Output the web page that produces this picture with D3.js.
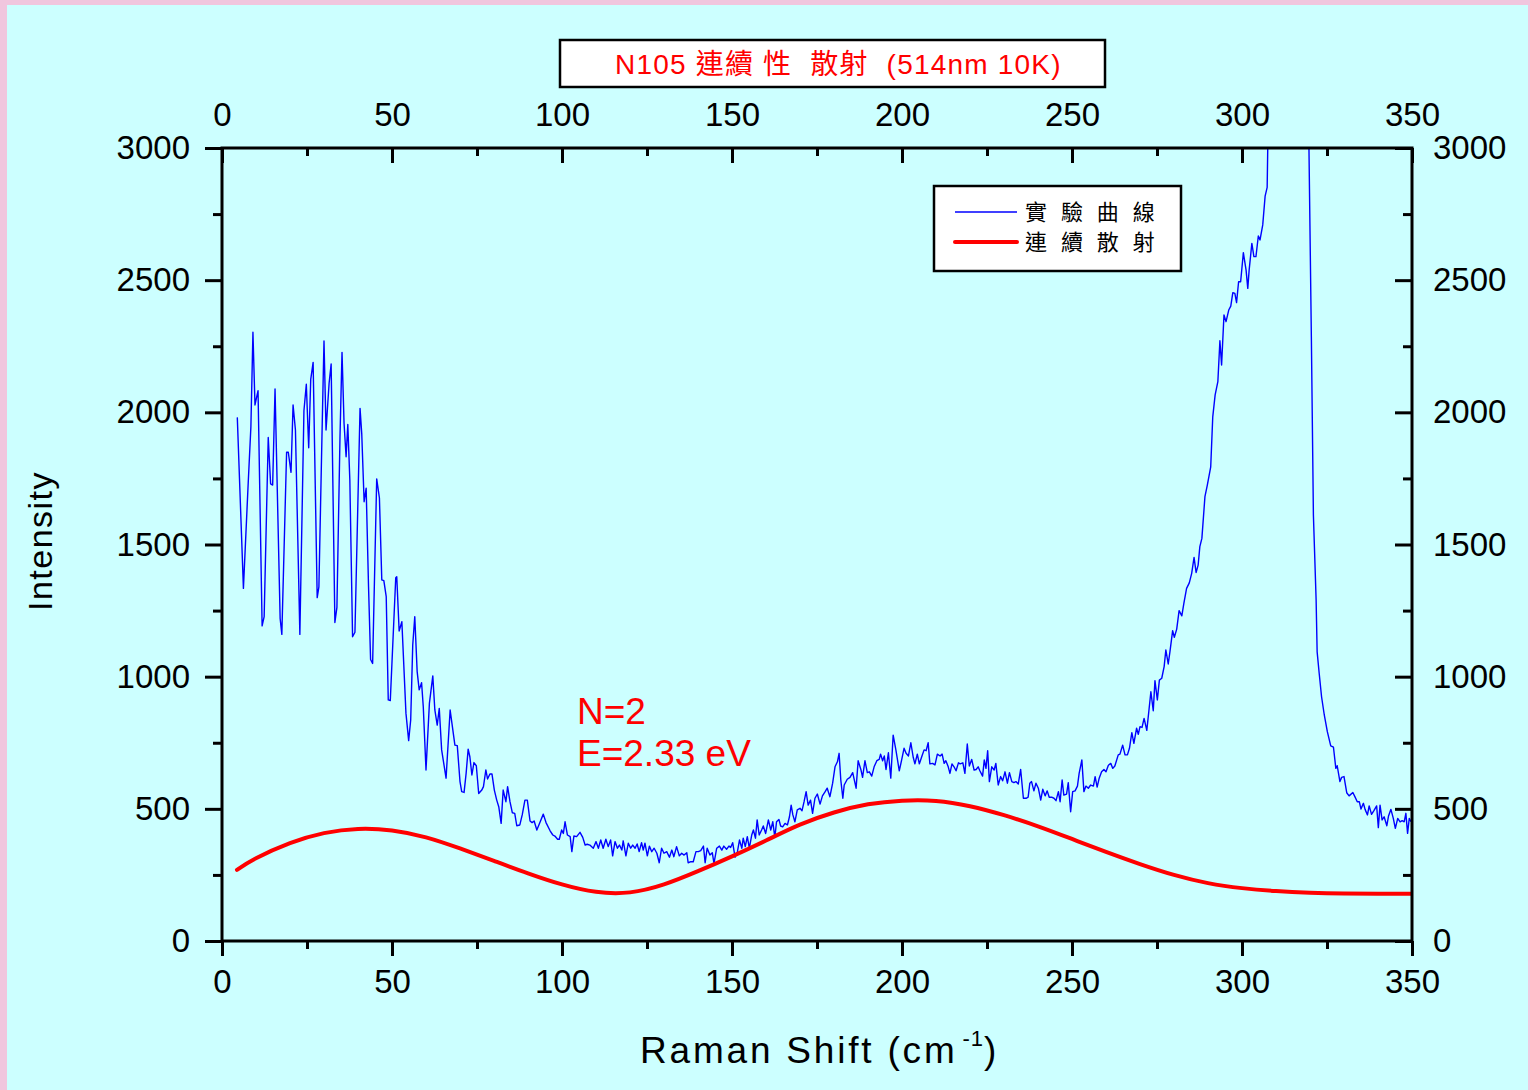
<!DOCTYPE html>
<html><head><meta charset="utf-8">
<script src="https://cdn.jsdelivr.net/npm/d3@7"></script>
<style>
body{margin:0;background:#f0c6de;}
svg{display:block;}
text{font-family:"Liberation Sans",Arial,"Noto Sans CJK TC",sans-serif;}
.cjk{font-family:"Liberation Sans","Noto Sans CJK TC",sans-serif;}
</style>
</head><body><svg id="c" width="1530" height="1090"></svg>
<script>
// ---------- data ----------
const expX = [4.5,6.3,7.7,8.5,9.1,9.7,10.6,11.8,12.4,13.6,14.3,14.9,15.6,17.1,17.6,19.0,19.5,20.3,20.9,21.6,22.9,24.1,24.8,25.5,26.1,26.8,28.0,28.5,29.5,30.0,30.6,31.5,32.1,33.2,33.8,34.7,35.3,35.9,36.5,37.0,37.6,38.4,39.1,40.6,41.1,41.8,42.4,43.1,43.7,44.3,45.5,46.3,47.0,47.6,48.3,48.9,49.5,51.1,51.4,52.1,52.9,54.1,54.9,55.5,56.1,56.7,57.4,58.0,58.7,59.2,60.0,61.0,62.0,62.6,63.3,63.9,64.6,65.9,67.1,67.9,68.5,69.2,70.0,70.5,71.2,71.8,72.4,72.9,73.5,74.1,74.8,75.5,76.4,76.9,77.6,78.1,78.8,79.4,80.1,80.8,81.4,82.1,82.7,83.5,84.0,84.7,85.4,86.1,86.7,87.6,88.3,89.1,89.8,90.6,91.2,91.8,92.6,93.5,94.5,95.3,96.5,97.3,97.9,98.7,99.2,99.9,100.4,100.9,101.6,102.4,102.9,103.5,104.3,105.3,106.1,106.8,107.4,108.2,109.2,110.0,110.7,111.4,112.1,112.9,113.6,114.3,114.9,115.6,116.3,116.9,117.6,118.0,118.8,119.5,120.2,120.8,121.5,122.1,122.7,123.4,123.9,124.4,125.1,125.7,126.4,127.1,127.9,128.6,129.3,130.0,130.8,131.6,132.3,132.9,133.7,134.5,135.2,135.9,136.7,137.1,137.9,138.6,139.4,140.1,140.8,141.6,142.1,142.7,143.5,144.2,144.7,145.5,146.3,147.0,147.6,148.4,149.1,149.6,150.2,150.9,151.6,152.2,152.9,153.3,153.9,154.5,155.1,155.8,156.3,156.9,157.4,158.0,158.7,159.2,159.9,160.7,161.4,162.0,162.6,163.1,163.8,164.3,164.9,165.6,166.3,166.9,167.4,167.9,168.5,169.2,170.0,170.6,171.2,171.8,172.4,173.1,173.7,174.4,175.1,175.9,176.6,177.4,178.0,178.8,179.6,180.3,181.0,181.5,182.0,182.6,183.0,183.9,184.7,185.5,186.5,187.1,187.9,188.4,189.1,189.8,190.4,191.1,191.8,192.6,193.3,193.7,194.3,194.8,195.3,196.0,196.7,197.4,198.2,199.2,199.9,200.6,201.2,201.9,202.6,203.3,203.8,204.5,205.1,205.8,206.5,207.1,207.7,208.2,209.0,209.7,210.4,211.2,211.8,212.4,212.9,213.6,214.1,214.7,215.3,215.9,216.6,217.1,217.9,218.5,219.2,219.8,220.5,221.2,221.8,222.4,222.9,223.7,224.2,224.7,225.2,225.7,226.4,227.1,227.6,228.3,229.0,229.6,230.3,231.0,231.6,232.3,232.9,233.5,234.2,234.9,235.7,236.5,237.1,237.6,238.1,238.8,239.4,240.1,240.8,241.4,242.1,242.7,243.3,244.0,244.7,245.3,246.0,246.5,247.1,247.6,248.4,248.9,249.6,250.2,250.9,251.6,252.1,252.9,253.5,254.1,254.8,255.5,256.3,256.8,257.4,258.0,258.7,259.4,260.0,260.7,261.4,262.0,262.6,263.6,264.1,264.9,265.6,266.3,266.9,267.6,268.2,269.0,269.5,270.0,270.6,271.2,272.0,272.6,273.2,273.9,274.4,275.1,275.7,276.4,277.1,277.6,278.3,278.8,279.6,280.1,280.8,281.5,282.3,282.9,283.7,284.5,285.2,285.9,286.5,287.1,287.6,288.2,289.1,289.8,290.8,291.4,292.1,292.9,293.5,294.0,294.7,295.3,296.1,296.7,297.3,297.9,298.4,299.0,299.6,300.4,301.2,301.7,302.1,302.9,303.5,304.1,304.8,305.3,306.1,306.8,307.4,308.1,308.8,309.5,310.2,310.9,311.6,312.3,313.0,313.7,314.4,315.1,315.8,316.5,317.2,317.9,319.0,319.7,320.4,321.0,321.8,322.1,322.7,323.4,324.2,325.1,326.1,326.9,327.6,328.0,328.8,329.3,330.0,330.8,331.5,332.6,333.2,333.9,334.5,335.0,335.7,336.2,336.9,337.4,338.1,338.8,339.6,340.1,340.6,341.2,341.8,342.6,343.1,343.8,344.5,345.1,345.8,346.5,347.1,347.7,348.2,348.7,349.2,349.7];
const expY = [1981,1334,1731,1946,2303,2028,2082,1192,1227,1905,1729,1725,2088,1220,1160,1849,1849,1773,2028,1933,1160,2006,2106,1866,2125,2189,1299,1340,1971,2270,1933,2110,2183,1205,1262,1905,2227,1958,1832,1954,1744,1151,1168,2015,1920,1662,1713,1340,1065,1050,1748,1676,1366,1363,1303,912,910,1374,1378,1173,1208,862,758,836,1120,1227,1019,950,977,886,647,899,1003,874,817,880,723,616,874,798,741,739,603,565,562,634,726,697,628,675,663,558,571,584,647,613,632,632,571,533,508,445,571,527,584,527,485,483,436,439,477,533,533,454,448,454,420,448,480,448,417,401,397,385,385,420,407,451,401,395,338,397,395,411,392,363,366,363,351,376,351,382,351,385,357,382,322,376,351,363,344,379,322,370,351,363,351,367,338,372,344,370,322,359,338,351,332,296,351,332,338,317,344,319,357,322,332,325,334,296,300,300,338,338,342,359,296,351,325,334,294,351,359,344,359,347,359,354,372,317,338,382,351,389,357,395,351,401,420,389,458,401,420,435,407,458,420,451,392,451,460,435,432,445,439,470,514,477,451,496,502,493,527,565,514,533,483,540,556,518,549,565,578,546,597,659,678,710,609,540,590,612,619,637,578,682,649,619,682,637,640,624,659,682,687,707,682,700,649,712,616,779,723,644,685,729,710,700,750,695,670,707,670,697,723,720,750,670,672,666,707,700,707,672,682,659,634,670,659,644,674,670,674,634,745,662,687,647,649,659,644,624,685,653,720,603,659,647,672,590,622,606,640,597,637,603,599,603,594,649,540,540,544,597,603,568,597,578,533,574,549,568,544,544,540,531,565,527,609,552,556,599,489,565,568,586,634,685,565,586,578,590,586,622,582,616,640,649,640,665,672,653,662,704,707,741,704,704,729,788,748,805,782,811,808,842,797,869,943,871,985,912,987,994,1038,1101,1048,1094,1174,1149,1180,1250,1230,1277,1334,1355,1391,1451,1394,1422,1492,1523,1681,1725,1794,1983,2066,2116,2271,2179,2368,2343,2387,2402,2453,2450,2415,2494,2494,2604,2538,2469,2538,2639,2589,2589,2667,2652,2709,2818,2851,3450,4300,5400,6800,8200,9500,10400,10800,10500,9700,8500,7200,6100,5100,4300,3764,2992,2285,1612,1290,1094,1013,924,855,792,738,733,653,663,603,619,622,561,549,562,546,527,527,499,521,498,477,511,479,493,511,429,514,458,470,436,473,498,464,426,464,451,455,451,483,407,464,451];

const contX = [4.4,10,20,30,40,50,60,70,80,90,100,110,120,130,140,150,160,170,180,190,200,210,220,230,240,250,260,270,280,290,300,310,320,330,340,350];
const contY = [269,313,370,408,424,418,392,350,303,256,214,186,184,214,264,320,380,440,486,517,531,530,510,476,434,386,337,291,250,219,200,189,183,180,179,179];

const xMajor = [0,50,100,150,200,250,300,350];
const xMinor = [25,75,125,175,225,275,325];
const yMajor = [0,500,1000,1500,2000,2500,3000];
const yMinor = [250,750,1250,1750,2250,2750];

const titleText = "N105 連續 性  散射  (514nm 10K)";
const legendLabels = ["實 驗 曲 線", "連 續 散 射"];
const xTitle = "Raman Shift (cm";
const yTitle = "Intensity";

// ---------- drawing ----------
const svg = d3.select("#c");
const L = 222, R = 1412, T = 148, B = 941;

svg.append("rect").attr("x",0).attr("y",0).attr("width",1530).attr("height",1090).attr("fill","#f0c6de");
svg.append("rect").attr("x",7).attr("y",5).attr("width",1521).attr("height",1085).attr("fill","#ccffff");

const x = d3.scaleLinear().domain([0,350]).range([L,R]);
const y = d3.scaleLinear().domain([0,3000]).range([B,T]);

svg.append("defs").append("clipPath").attr("id","clip")
  .append("rect").attr("x",L).attr("y",T).attr("width",R-L).attr("height",B-T);

function styleAxis(g){
  g.select(".domain").remove();
  g.selectAll(".tick line").attr("stroke","#000").attr("stroke-width",3);
  g.selectAll(".tick text").attr("fill","#000").attr("font-size",33)
    .attr("font-family","'Liberation Sans',Arial,sans-serif");
}
// left axis: ticks outward
svg.append("g").attr("transform",`translate(${L},0)`)
  .call(d3.axisLeft(y).tickValues(yMajor).tickSize(17).tickPadding(15).tickFormat(d3.format("d"))).call(styleAxis);
svg.append("g").attr("transform",`translate(${L},0)`)
  .call(d3.axisLeft(y).tickValues(yMinor).tickSize(9).tickFormat("")).call(styleAxis);
// right axis: ticks inward
svg.append("g").attr("transform",`translate(${R},0)`)
  .call(d3.axisRight(y).tickValues(yMajor).tickSize(-17).tickPadding(21).tickFormat(d3.format("d"))).call(styleAxis);
svg.append("g").attr("transform",`translate(${R},0)`)
  .call(d3.axisRight(y).tickValues(yMinor).tickSize(-9).tickFormat("")).call(styleAxis);
// bottom axis: ticks outward
svg.append("g").attr("transform",`translate(0,${B})`)
  .call(d3.axisBottom(x).tickValues(xMajor).tickSize(15).tickPadding(14).tickFormat(d3.format("d"))).call(styleAxis);
svg.append("g").attr("transform",`translate(0,${B})`)
  .call(d3.axisBottom(x).tickValues(xMinor).tickSize(8).tickFormat("")).call(styleAxis);
// top axis: ticks inward
svg.append("g").attr("transform",`translate(0,${T})`)
  .call(d3.axisTop(x).tickValues(xMajor).tickSize(-15).tickPadding(22).tickFormat(d3.format("d"))).call(styleAxis);
svg.append("g").attr("transform",`translate(0,${T})`)
  .call(d3.axisTop(x).tickValues(xMinor).tickSize(-8).tickFormat("")).call(styleAxis);

// data lines
const plot = svg.append("g").attr("clip-path","url(#clip)");
const expData = expX.map((v,i)=>[v,expY[i]]);
const contData = contX.map((v,i)=>[v,contY[i]]);
plot.append("path").datum(expData)
  .attr("d", d3.line().x(d=>x(d[0])).y(d=>y(d[1])))
  .attr("fill","none").attr("stroke","#0000ff").attr("stroke-width",1.4).attr("stroke-linejoin","round");
plot.append("path").datum(contData)
  .attr("d", d3.line().curve(d3.curveNatural).x(d=>x(d[0])).y(d=>y(d[1])))
  .attr("fill","none").attr("stroke","#ff0000").attr("stroke-width",4).attr("stroke-linecap","round");

// frame
svg.append("rect").attr("x",L).attr("y",T).attr("width",R-L).attr("height",B-T)
  .attr("fill","none").attr("stroke","#000").attr("stroke-width",3);

// title box
svg.append("rect").attr("x",560).attr("y",40).attr("width",545).attr("height",47)
  .attr("fill","#fff").attr("stroke","#000").attr("stroke-width",2.5);
svg.append("text").attr("class","cjk").attr("x",615).attr("y",74)
  .attr("fill","#ff0000").attr("font-size",28).attr("letter-spacing",1.2)
  .style("white-space","pre").text(titleText);

// legend
svg.append("rect").attr("x",934).attr("y",186).attr("width",247).attr("height",85)
  .attr("fill","#fff").attr("stroke","#000").attr("stroke-width",2.5);
svg.append("line").attr("x1",955).attr("x2",1017).attr("y1",212).attr("y2",212)
  .attr("stroke","#0000ff").attr("stroke-width",1.4);
svg.append("line").attr("x1",955).attr("x2",1017).attr("y1",242).attr("y2",242)
  .attr("stroke","#ff0000").attr("stroke-width",4).attr("stroke-linecap","round");
legendLabels.forEach((t,i)=>{
  svg.append("text").attr("x",1025).attr("y",220+30*i)
    .attr("fill","#000").attr("font-size",22)
    .attr("letter-spacing",4.5).style("font-family","'Noto Sans CJK TC',sans-serif").style("white-space","pre").text(t);
});

// annotation
svg.append("text").attr("x",577).attr("y",724).attr("fill","#ff0000").attr("font-size",37).text("N=2");
svg.append("text").attr("x",577).attr("y",766).attr("fill","#ff0000").attr("font-size",37).text("E=2.33 eV");

// axis titles
const xt = svg.append("text").attr("x",640).attr("y",1063).attr("fill","#000")
  .attr("font-size",37).attr("letter-spacing",2.8).text(xTitle);
xt.append("tspan").attr("font-size",22).attr("dy",-17).attr("dx",5).attr("letter-spacing",1).text("-1");
xt.append("tspan").attr("font-size",37).attr("dy",17).text(")");

svg.append("text").attr("transform","translate(52,541) rotate(-90)")
  .attr("text-anchor","middle").attr("fill","#000").attr("font-size",34)
  .attr("letter-spacing",1.5).text(yTitle);
</script>
</body></html>
